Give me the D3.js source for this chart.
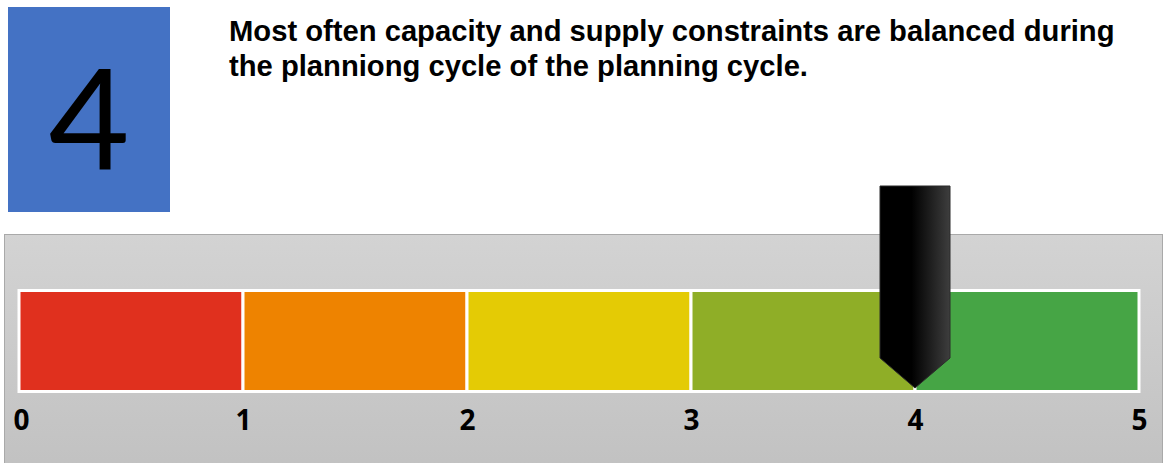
<!DOCTYPE html>
<html>
<head>
<meta charset="utf-8">
<script src="https://cdn.jsdelivr.net/npm/d3@7"></script>
<style>
  body { margin: 0; background: #fff; }
  svg { display: block; }
</style>
</head>
<body>
<svg id="chart"></svg>
<script>
const width = 1168;
const height = 463;

// Chart data
const score = 4;
const scoreLabel = "4";
const titleLines = [
    "Most often capacity and supply constraints are balanced during",
    "the planniong cycle of the planning cycle."
];
const tickValues = [0, 1, 2, 3, 4, 5];
const bandColors = ["#e0301e", "#ee8300", "#e4cb05", "#8fae27", "#46a545"];

const svg = d3.select("#chart")
    .attr("width", width)
    .attr("height", height);

const defs = svg.append("defs");

// Panel background gradient
const panelGrad = defs.append("linearGradient")
    .attr("id", "panelGrad")
    .attr("x1", 0).attr("y1", 0).attr("x2", 0).attr("y2", 1);
panelGrad.append("stop").attr("offset", "0%").attr("stop-color", "#d3d3d3");
panelGrad.append("stop").attr("offset", "100%").attr("stop-color", "#c1c1c1");

// Pointer gradient: black left half, fading to gray on the right
const pointerGrad = defs.append("linearGradient")
    .attr("id", "pointerGrad")
    .attr("x1", 0).attr("y1", 0).attr("x2", 1).attr("y2", 0);
pointerGrad.append("stop").attr("offset", "0%").attr("stop-color", "#000");
pointerGrad.append("stop").attr("offset", "45%").attr("stop-color", "#000");
pointerGrad.append("stop").attr("offset", "100%").attr("stop-color", "#3e3e3e");

// Score box
svg.append("rect")
    .attr("x", 8).attr("y", 7)
    .attr("width", 162).attr("height", 205)
    .attr("fill", "#4472c4");

svg.append("text")
    .attr("x", 89).attr("y", 169)
    .attr("text-anchor", "middle")
    .style("font-family", "Lato, 'Open Sans', sans-serif")
    .style("font-size", "140px")
    .style("fill", "#000")
    .text(scoreLabel);

// Title
svg.append("g")
    .selectAll("text")
    .data(titleLines)
    .enter().append("text")
    .attr("x", 229)
    .attr("y", (d, i) => 41 + i * 35)
    .style("font-family", "'Liberation Sans', Arial, sans-serif")
    .style("font-weight", "bold")
    .style("font-size", "29.2px")
    .style("fill", "#000")
    .text(d => d);

// Gray panel
svg.append("rect")
    .attr("x", 4.5).attr("y", 234.5)
    .attr("width", 1158).attr("height", 240)
    .attr("fill", "url(#panelGrad)")
    .attr("stroke", "#a9a9a9")
    .attr("stroke-width", 1);

const x = d3.scaleLinear()
    .domain(d3.extent(tickValues))
    .range([19, 1139]);

const barTop = 290.5;
const barBottom = 391.5;

// Coloured bands
svg.append("g")
    .selectAll("rect")
    .data(bandColors)
    .enter().append("rect")
    .attr("x", (d, i) => x(tickValues[i]))
    .attr("y", barTop)
    .attr("width", (d, i) => x(tickValues[i + 1]) - x(tickValues[i]))
    .attr("height", barBottom - barTop)
    .attr("fill", d => d)
    .attr("stroke", "#fff")
    .attr("stroke-width", 3);

// Tick labels
const axis = d3.axisBottom(x)
    .tickValues(tickValues)
    .tickFormat(d3.format("d"))
    .tickSize(0)
    .tickPadding(0);

const axisG = svg.append("g")
    .attr("transform", `translate(0, 410)`)
    .call(axis);
axisG.select(".domain").remove();
axisG.selectAll("text")
    .attr("dy", "0.71em")
    .attr("dx", d => d === 0 ? 2 : 0)
    .style("font-family", "'Open Sans', Lato, sans-serif")
    .style("font-weight", "bold")
    .style("font-size", "28px")
    .style("fill", "#000");

// Pointer marker
const px = x(score);
const halfW = 35;
const pointerTop = 186;
const shoulder = 358;
const tip = 388;
const pointerPath = d3.path();
pointerPath.moveTo(px - halfW, pointerTop);
pointerPath.lineTo(px + halfW, pointerTop);
pointerPath.lineTo(px + halfW, shoulder);
pointerPath.lineTo(px, tip);
pointerPath.lineTo(px - halfW, shoulder);
pointerPath.closePath();

svg.append("path")
    .attr("d", pointerPath.toString())
    .attr("fill", "url(#pointerGrad)")
    .attr("stroke", "#2b2b2b")
    .attr("stroke-width", 1);
</script>
</body>
</html>
